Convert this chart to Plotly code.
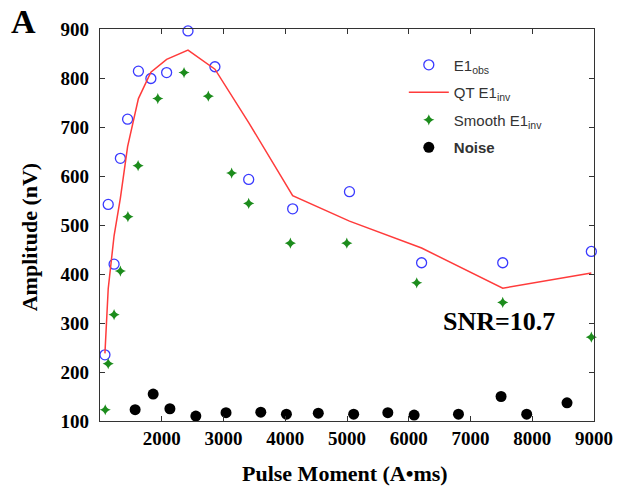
import plotly.graph_objects as go

# E1 observed (open circles)
obs_x = [1080, 1133, 1228, 1330, 1447, 1622, 1824, 2079, 2425, 2861, 3408, 4120, 5040, 6208, 7522, 8957]
obs_y = [235, 542, 420, 636, 716, 814, 799, 811, 896, 823, 593, 533, 568, 423, 423, 446]

# QT inversion (red line)
qt_x = [1080, 1133, 1228, 1330, 1447, 1622, 1824, 2079, 2425, 2861, 3408, 4120, 5040, 6208, 7522, 8957]
qt_y = [238, 370, 478, 555, 660, 758, 812, 838, 857, 818, 709, 560, 508, 453, 371, 402]

# Smooth inversion (green stars)
sm_x = [1085, 1133, 1228, 1330, 1452, 1617, 1936, 2361, 2754, 3132, 3408, 4083, 4997, 6129, 7522, 8957]
sm_y = [123, 217, 317, 406, 517, 621, 758, 811, 763, 606, 544, 463, 463, 382, 342, 271]

# Noise (black dots)
nz_x = [1569, 1861, 2132, 2552, 3041, 3604, 4019, 4535, 5108, 5661, 6087, 6805, 7495, 7910, 8563]
nz_y = [123, 155, 125, 110, 117, 118, 114, 116, 114, 117, 112, 114, 150, 114, 137]

x_ticks = [2000, 3000, 4000, 5000, 6000, 7000, 8000, 9000]
y_ticks = [100, 200, 300, 400, 500, 600, 700, 800, 900]

fig = go.Figure()
fig.add_trace(go.Scatter(x=obs_x, y=obs_y, mode="markers", name="E1<sub>obs</sub>",
                         marker=dict(symbol="circle-open", size=10, color="#3a3aff", line=dict(width=1.3)),
                         legendgroup="a", cliponaxis=False))
fig.add_trace(go.Scatter(x=qt_x, y=qt_y, mode="lines", name="QT E1<sub>inv</sub>",
                         line=dict(color="#ff3b3b", width=1.5), legendgroup="b", cliponaxis=False))
fig.add_trace(go.Scatter(x=sm_x, y=sm_y, mode="markers", name="Smooth E1<sub>inv</sub>",
                         marker=dict(symbol="star-diamond", size=8, color="#1c8c1c"),
                         legendgroup="c", cliponaxis=False))
fig.add_trace(go.Scatter(x=nz_x, y=nz_y, mode="markers", name="<b>Noise</b>",
                         marker=dict(symbol="circle", size=11, color="black"),
                         legendgroup="d", cliponaxis=False))

axis_font = dict(family="Liberation Serif", size=19, color="black")
fig.update_xaxes(range=[1000, 9000], tickvals=x_ticks, ticktext=["<b>%d</b>" % v for v in x_ticks],
                 ticks="inside", ticklen=5, tickcolor="#333", showline=True, linecolor="#333",
                 linewidth=1.2, mirror="ticks", showgrid=False, zeroline=False,
                 tickfont=axis_font)
fig.update_yaxes(range=[100, 900], tickvals=y_ticks, ticktext=["<b>%d</b>" % v for v in y_ticks],
                 ticks="inside", ticklen=5, tickcolor="#333", showline=True, linecolor="#333",
                 linewidth=1.2, mirror="ticks", showgrid=False, zeroline=False,
                 tickfont=axis_font, ticklabelstandoff=6)

title_font = dict(family="Liberation Serif", size=22, color="black")
fig.update_layout(
    width=625, height=492,
    margin=dict(l=100, r=23, t=29, b=71),
    paper_bgcolor="white", plot_bgcolor="white",
    showlegend=True,
    legend=dict(x=0.615, y=0.95, xanchor="left", yanchor="top", itemwidth=40,
                font=dict(family="Liberation Sans", size=15, color="#333"),
                bgcolor="rgba(0,0,0,0)", traceorder="grouped", tracegroupgap=5),
    annotations=[
        dict(text="<b>Amplitude (nV)</b>", xref="paper", yref="paper", x=-0.1434, y=0.469,
             textangle=-90, showarrow=False, font=title_font, xanchor="center", yanchor="middle"),
        dict(text="<b>Pulse Moment (A•ms)</b>", xref="paper", yref="paper", x=0.495, y=-0.1327,
             showarrow=False, font=title_font, xanchor="center", yanchor="middle"),
        dict(text="<b>A</b>", xref="paper", yref="paper", x=-0.155, y=1.018,
             showarrow=False, font=dict(family="Liberation Serif", size=34, color="black"),
             xanchor="center", yanchor="middle"),
        dict(text="<b>SNR=10.7</b>", xref="paper", yref="paper", x=0.807, y=0.2526,
             showarrow=False, font=dict(family="Liberation Serif", size=26, color="black"),
             xanchor="center", yanchor="middle"),
    ],
)

fig.write_html("out.html")
